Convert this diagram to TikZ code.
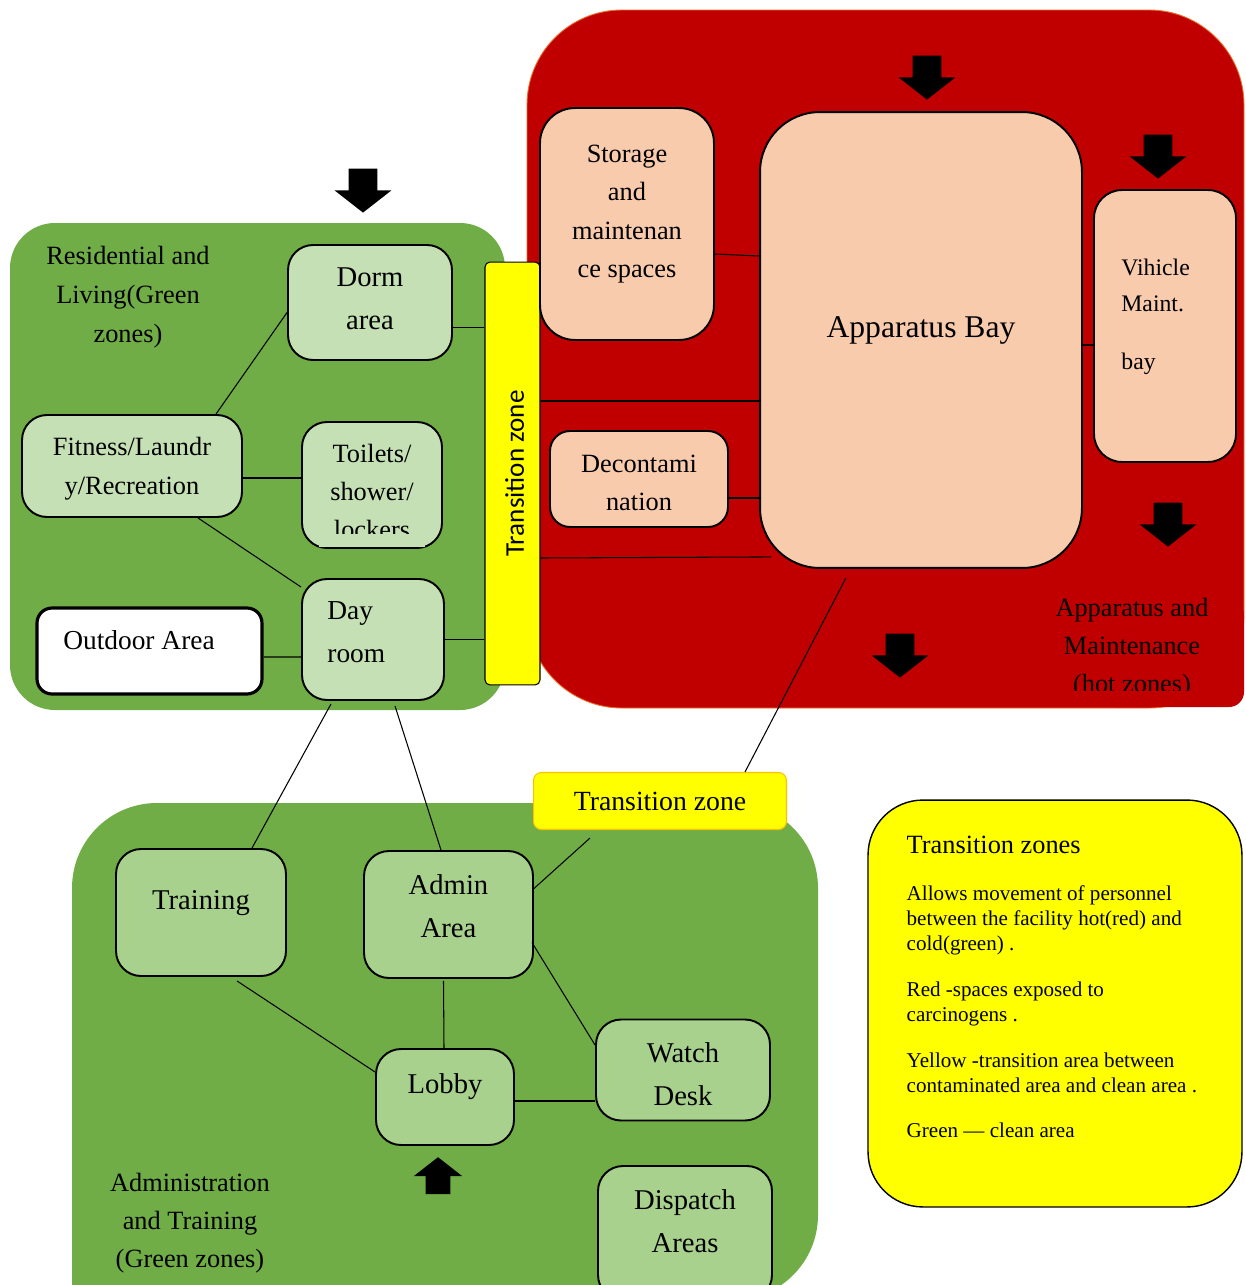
\documentclass[tikz,border=0pt]{standalone}
\usepackage{fontspec}
\setmainfont{Liberation Serif}
\newfontfamily\calfont{Carlito}
\usetikzlibrary{calc,shapes.arrows}
\definecolor{hotred}{HTML}{C00000}
\definecolor{zonegreen}{HTML}{70AD47}
\definecolor{resgreen}{HTML}{C5E0B4}
\definecolor{admgreen}{HTML}{A9D18E}
\definecolor{peach}{HTML}{F8CBAD}
\definecolor{trans}{HTML}{FFFF00}
\definecolor{gold}{HTML}{FFC000}
\definecolor{rededge}{HTML}{E8702A}
\tikzset{
  room/.style       = {draw=black, line width=1.1pt, rounded corners=0.5cm, inner sep=2pt, align=center},
  resroom/.style    = {room, fill=resgreen},
  admroom/.style    = {room, fill=admgreen},
  hotroom/.style    = {room, fill=peach},
  wire/.style       = {line width=0.6pt},
  fatarrow/.style   = {single arrow, fill=black, inner xsep=0pt, inner ysep=0.28cm, minimum height=0.88cm,
                       single arrow head extend=0.28cm, single arrow tip angle=104},
  every node/.style = {font=\fontsize{15}{22}\selectfont},
  lbl/.style        = {inner sep=0pt, align=center},
  bigtxt/.style     = {font=\fontsize{16.3}{24.5}\selectfont},
}
\begin{document}
\begin{tikzpicture}[x=0.02cm, y=-0.02cm]
  \clip (0,0) rectangle (1245,1285);
  \fill[hotred, draw=rededge, line width=0.5pt, rounded corners=1.9cm] (527,10) rectangle (1244,708);
  \fill[hotred, rounded corners=0.3cm] (1100,600) rectangle (1244,707);
  \fill[zonegreen, rounded corners=0.9cm] (10,223) rectangle (505,710);
  \fill[zonegreen, rounded corners=1.7cm] (72,803) rectangle (818,1300);
  \fill[zonegreen] (72,1200) rectangle (200,1300);

  \node[draw=black, line width=0.6pt, fill=trans, rounded corners=0.1cm, minimum width=1.1cm,
        minimum height=8.46cm, inner sep=0pt] (trbar) at (512.5,473.5) {};
  \node[rotate=90, font=\calfont\fontsize{15.4}{18}\selectfont] (trtxt) at ($(trbar)+(2,0)$) {Transition zone};

  \node[resroom, minimum width=3.28cm, minimum height=2.3cm] (dorm) at (370,302.5) {};
  \node[lbl, bigtxt] (dormtxt) at ($(dorm)+(0,-3.5)$) {Dorm\\area};
  \node[resroom, minimum width=4.4cm, minimum height=2.04cm] (fitness) at (132,466) {};
  \node[lbl, font=\fontsize{15}{22}\selectfont] (fitnesstxt) at ($(fitness)+(0,3)$) {Fitness/Laundr\\y/Recreation};
  \node[resroom, minimum width=2.8cm, minimum height=2.52cm] (toilet) at (372,485) {};
  \node[lbl, font=\fontsize{15}{21.5}\selectfont] (toilettxt) at ($(toilet)+(0,6.5)$) {Toilets/\\shower/\\lockers};
  \fill[resgreen] ($(toilet.south west)+(18,-15)$) rectangle ($(toilet.south east)+(-18,-2)$);
  \node[resroom, minimum width=2.84cm, minimum height=2.42cm] (day) at (373,639.5) {};
  \node[lbl, anchor=west, align=left, font=\fontsize{15.6}{24.4}\selectfont] (daytxt) at ($(day.west)+(26,-7)$) {Day\\room};
  \node[room, fill=white, line width=1.8pt, rounded corners=0.3cm, minimum width=4.5cm, minimum height=1.72cm] (outdoor) at (149.5,651) {};
  \node[lbl, font=\fontsize{15.6}{22}\selectfont] (outdoortxt) at ($(outdoor)+(-10.5,-11)$) {Outdoor Area};
  \node[lbl, font=\fontsize{15}{22.2}\selectfont] (reslbl) at (128,297) {Residential and\\Living(Green\\zones)};

  \node[hotroom, rounded corners=0.7cm, minimum width=3.48cm, minimum height=4.64cm] (storage) at (627,224) {};
  \node[lbl, font=\fontsize{15}{21.8}\selectfont] (storagetxt) at ($(storage)+(0,-10)$) {Storage\\and\\maintenan\\ce spaces};
  \node[hotroom, rounded corners=1.2cm, minimum width=6.44cm, minimum height=9.12cm] (bay) at (921,340) {};
  \node[lbl, font=\fontsize{18}{22}\selectfont] (baytxt) at ($(bay)+(0,-10)$) {Apparatus Bay};
  \node[hotroom, rounded corners=0.56cm, minimum width=2.84cm, minimum height=5.44cm] (vehicle) at (1165,326) {};
  \node[lbl, anchor=west, align=left, font=\fontsize{13.5}{20.4}\selectfont] (vehicletxt) at ($(vehicle.west)+(28,-9)$) {Vihicle\\Maint.\\[12.5pt]bay};
  \node[hotroom, rounded corners=0.4cm, minimum width=3.56cm, minimum height=1.92cm] (decon) at (639,479) {};
  \node[lbl, font=\fontsize{15}{22}\selectfont] (decontxt) at ($(decon)+(0,4)$) {Decontami\\nation};
  \node[lbl, font=\fontsize{15}{21.8}\selectfont] (hotlbl) at (1132,648) {Apparatus and\\Maintenance\\(hot zones)};
  \fill[hotred] (1050,691) rectangle (1215,706);

  \node[draw=gold, line width=0.6pt, fill=trans, rounded corners=0.16cm, minimum width=5.06cm,
        minimum height=1.14cm, font=\fontsize{15.8}{18}\selectfont] (trsmall) at (660,801) {Transition zone};
  \node[admroom, minimum width=3.4cm, minimum height=2.54cm] (training) at (201,912.5) {};
  \node[lbl, bigtxt] (trainingtxt) at ($(training)+(0,-9.5)$) {Training};
  \node[admroom, minimum width=3.38cm, minimum height=2.54cm] (admin) at (448.5,914.5) {};
  \node[lbl, bigtxt] (admintxt) at ($(admin)+(0,-8.5)$) {Admin\\Area};
  \node[admroom, minimum width=2.76cm, minimum height=1.92cm] (lobby) at (445,1097) {};
  \node[lbl, bigtxt] (lobbytxt) at ($(lobby)+(0,-10)$) {Lobby};
  \node[admroom, minimum width=3.48cm, minimum height=2.02cm] (watch) at (683,1070) {};
  \node[lbl, bigtxt] (watchtxt) at ($(watch)+(0,4)$) {Watch\\Desk};
  \node[admroom, minimum width=3.48cm, minimum height=2.68cm] (dispatch) at (685,1233) {};
  \node[lbl, bigtxt] (dispatchtxt) at ($(dispatch)+(0,-12)$) {Dispatch\\Areas};
  \node[lbl, font=\fontsize{15}{21.8}\selectfont] (admlbl) at (190,1223) {Administration\\and Training\\(Green zones)};

  \node[draw=black, line width=0.8pt, fill=trans, rounded corners=1.1cm, minimum width=7.48cm, minimum height=8.14cm] (legend) at (1055,1003.5) {};
  \node[lbl, anchor=north west, align=left, font=\fontsize{12}{14.2}\selectfont] (legendtxt) at ($(legend.north west)+(39,36)$)
    {{\fontsize{15}{18}\selectfont Transition zones}\\[13pt]
     Allows movement of personnel\\between the facility hot(red) and\\cold(green) .\\[11.8pt]
     Red -spaces exposed to\\carcinogens .\\[11.8pt]
     Yellow -transition area between\\contaminated area and clean area .\\[11.8pt]
     Green — clean area};

  \node[fatarrow, rotate=-90] (arrdorm) at (363,185) {};
  \node[fatarrow, rotate=-90] (arrbay) at (927,72) {};
  \node[fatarrow, rotate=-90] (arrveh) at (1158,151) {};
  \node[fatarrow, rotate=-90] (arrout) at (1168,519) {};
  \node[fatarrow, rotate=-90] (arrbot) at (900,650) {};
  \node[fatarrow, rotate=90, inner ysep=0.24cm, minimum height=0.74cm, single arrow head extend=0.24cm] (arrlobby) at (438,1180.5) {};

  \draw[wire] ($(dorm.west)+(0,10)$) -- ($(fitness.north)+(84,0)$);
  \draw[wire] ($(fitness.east)+(0,12)$) -- ($(toilet.west)+(0,-7)$);
  \draw[wire] ($(fitness.south)+(66,0)$) -- ($(day.north west)+(0,9)$);
  \draw[wire] ($(outdoor.east)+(0,6)$) -- ($(day.west)+(0,17.5)$);
  \draw[wire] ($(dorm.east)+(0,25)$) coordinate (d1) -- (trbar.west |- d1);
  \draw[wire] (day.east) -- (trbar.west |- day.east);
  \draw[wire] ($(bay.west)+(0,61)$) coordinate (b1) -- (trbar.east |- b1);
  \draw[wire] ($(trbar.east)+(0,84.5)$) -- ($(bay.south west)+(12,-12)$);
  \draw[wire] ($(storage.east)+(0,30)$) -- ($(bay.west)+(0,-84)$);
  \draw[wire] ($(decon.east)+(0,19)$) coordinate (c1) -- (bay.west |- c1);
  \draw[wire] ($(bay.east)+(0,5)$) coordinate (v1) -- (vehicle.west |- v1);
  \draw[wire] ($(bay.south)+(-75,9)$) -- ($(trsmall.north)+(85,0)$);
  \draw[wire] ($(day.south)+(-42,3)$) -- ($(training.north)+(51,0)$);
  \draw[wire] ($(day.south)+(22,5)$) -- ($(admin.north)+(-7.5,0)$);
  \draw[wire] ($(trsmall.south)+(-70,8)$) -- ($(admin.east)+(0,-26)$);
  \draw[wire] ($(training.south)+(36,4)$) -- ($(lobby.west)+(0,-25)$);
  \draw[wire] ($(admin.south)+(-5,2)$) -- ($(lobby.north)+(-1,0)$);
  \draw[wire] ($(admin.east)+(-2,28)$) -- ($(watch.west)+(0,-25)$);
  \draw[wire] ($(lobby.east)+(0,4)$) coordinate (l1) -- (watch.west |- l1);
\end{tikzpicture}
\end{document}
